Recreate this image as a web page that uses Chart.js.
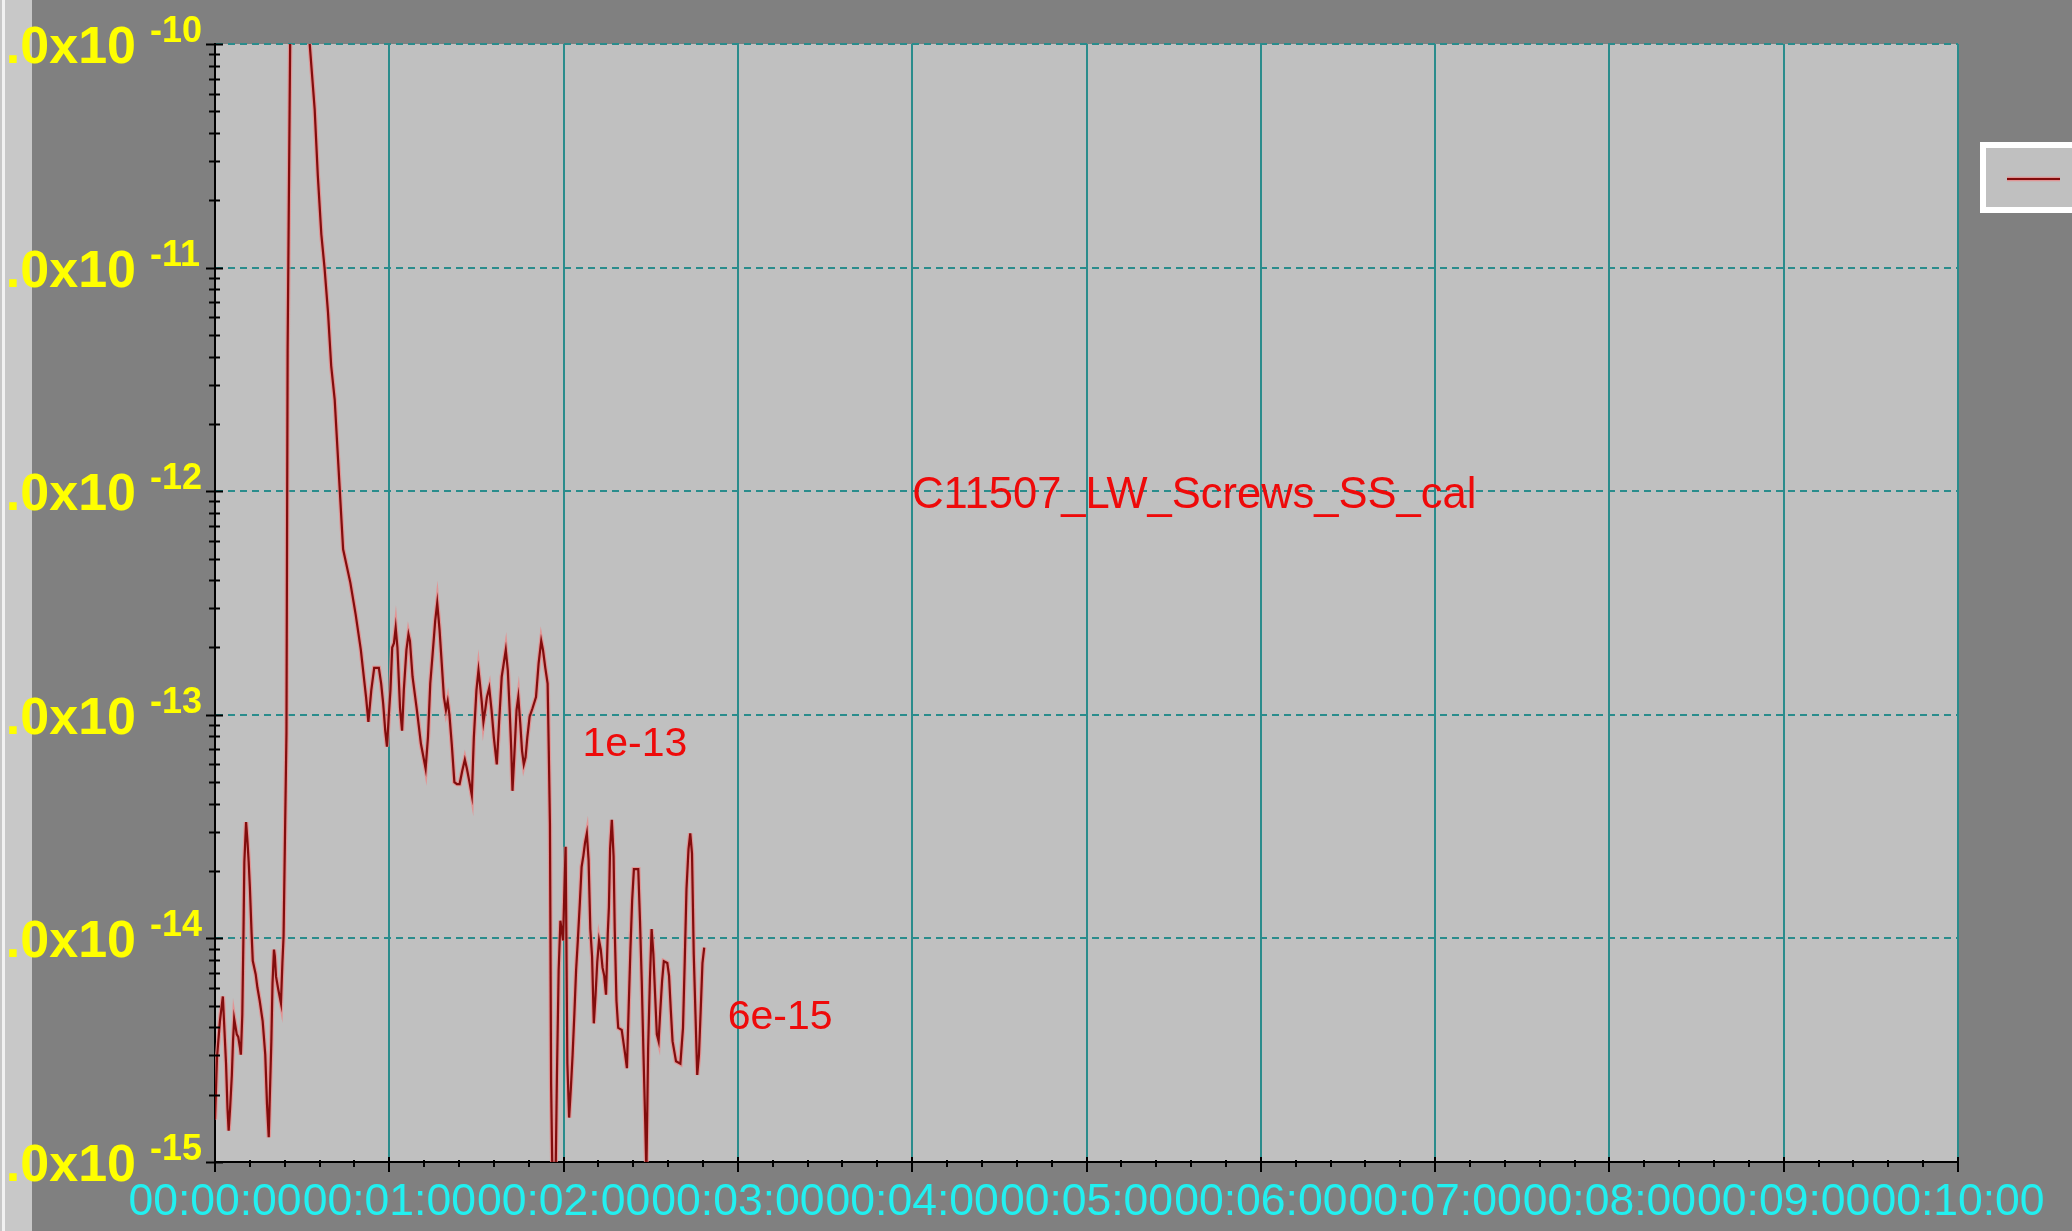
<!DOCTYPE html>
<html>
<head>
<meta charset="utf-8">
<script src="https://cdn.jsdelivr.net/npm/chart.js@4.4.1/dist/chart.umd.min.js"></script>
<style>
  html, body { margin: 0; padding: 0; background: #808080; overflow: hidden; }
  canvas { display: block; }
</style>
</head>
<body>
<canvas id="chart" width="2072" height="1231"></canvas>
<script>
// Ion current trace, time in seconds since start of run
const timeSec = [
  0, 0.7, 1.7, 2.7, 3.1, 3.8, 4.3, 4.7, 5.2, 5.8, 6.2, 6.6, 7.5, 8.0, 8.6, 8.9, 9.4, 9.8, 10.1, 10.7,
  11.2, 11.6, 12.0, 12.6, 13.0, 14.0, 14.6, 15.4, 16.4, 17.3, 17.9, 18.5, 18.8, 19.4, 19.8, 20.3, 20.6, 21.0, 21.8, 22.7,
  23.2, 23.6, 24.6, 25.0, 26.5, 30.0, 32.6, 34.3, 35.4, 36.6, 37.7, 38.9, 40.0, 41.2, 44.1, 46.6, 48.4, 50.2, 52.0, 52.8,
  53.8, 54.8, 56.4, 57.2, 57.9, 58.6, 59.2, 59.8, 60.4, 61.0, 61.6, 62.2, 62.8, 63.7, 64.4, 65.0, 65.9, 66.6, 67.1, 68.0,
  69.5, 70.9, 72.5, 73.3, 74.1, 74.9, 75.8, 76.5, 77.3, 77.9, 78.8, 79.5, 80.1, 80.7, 81.5, 82.4, 83.3, 84.2, 85.1, 86.0,
  86.7, 87.6, 88.4, 89.1, 90.0, 90.7, 91.2, 91.8, 92.4, 93.0, 93.6, 94.4, 95.2, 96.0, 97.0, 97.8, 98.7, 99.4, 100.1, 100.8,
  101.4, 102.0, 102.4, 103.0, 103.8, 104.4, 105.1, 105.7, 106.3, 106.9, 107.5, 108.3, 109.3, 110.5, 111.4, 112.3, 112.9, 113.7, 114.5, 114.9,
  115.3, 115.7, 116.3, 117.1, 117.7, 118.3, 118.9, 119.8, 120.7, 121.3, 121.9, 122.5, 123.1, 123.7, 124.3, 124.9, 125.6, 126.2, 126.8, 127.4,
  128.0, 128.6, 129.2, 129.8, 130.4, 131.0, 131.6, 132.2, 132.8, 133.4, 134.0, 134.6, 135.2, 135.6, 136.0, 136.6, 137.2, 137.6, 138.2, 138.8,
  140.0, 141.2, 141.8, 142.4, 143.0, 143.6, 144.2, 145.7, 146.3, 146.9, 147.5, 148.1, 148.5, 149.1, 149.7, 150.3, 150.9, 151.5, 152.1, 152.7,
  153.3, 153.9, 154.5, 155.7, 156.3, 156.9, 157.5, 158.7, 160.2, 161.1, 161.7, 162.3, 163.0, 163.6, 164.2, 164.8, 165.4, 166.0, 166.6, 167.2,
  167.8, 168.4
];
const currentA = [
  1.55e-15, 2.95e-15, 4.27e-15, 5.5e-15, 4.27e-15, 2.75e-15, 1.74e-15, 1.38e-15, 1.74e-15, 2.45e-15, 3.47e-15, 4.37e-15, 3.72e-15, 3.63e-15, 3.24e-15, 3.02e-15, 4.57e-15, 1.05e-14, 2.19e-14, 3.31e-14,
  2.69e-14, 2.19e-14, 1.70e-14, 1.05e-14, 7.94e-15, 6.92e-15, 6.03e-15, 5.25e-15, 4.27e-15, 3.02e-15, 1.82e-15, 1.29e-15, 1.82e-15, 3.47e-15, 6.31e-15, 8.91e-15, 8.32e-15, 6.76e-15, 5.89e-15, 5.13e-15,
  7.76e-15, 1.02e-14, 8.3e-14, 4.27e-12, 1.0e-9, 5.0e-10, 1.0e-10, 5.13e-11, 2.57e-11, 1.41e-11, 1.0e-11, 6.31e-12, 3.63e-12, 2.57e-12, 5.5e-13, 3.89e-13, 2.82e-13, 1.95e-13, 1.20e-13, 9.3e-14,
  1.29e-13, 1.62e-13, 1.62e-13, 1.38e-13, 1.12e-13, 8.5e-14, 7.2e-14, 9.8e-14, 1.29e-13, 2.0e-13, 2.09e-13, 2.45e-13, 2.0e-13, 1.07e-13, 8.5e-14, 1.29e-13, 1.95e-13, 2.29e-13, 2.14e-13, 1.48e-13,
  1.05e-13, 7.4e-14, 5.75e-14, 7.9e-14, 1.38e-13, 1.86e-13, 2.63e-13, 3.16e-13, 2.4e-13, 1.82e-13, 1.2e-13, 1.05e-13, 1.15e-13, 1.0e-13, 7.4e-14, 5.0e-14, 4.9e-14, 4.9e-14, 5.6e-14, 6.3e-14,
  5.75e-14, 5.0e-14, 4.37e-14, 7.9e-14, 1.29e-13, 1.58e-13, 1.38e-13, 1.15e-13, 9.3e-14, 1.05e-13, 1.2e-13, 1.32e-13, 1.05e-13, 7.9e-14, 6.0e-14, 9.3e-14, 1.48e-13, 1.7e-13, 1.95e-13, 1.58e-13,
  1.07e-13, 6.9e-14, 4.57e-14, 6.45e-14, 1.05e-13, 1.2e-13, 9.1e-14, 6.9e-14, 6.0e-14, 6.45e-14, 7.9e-14, 9.8e-14, 1.07e-13, 1.2e-13, 1.7e-13, 2.14e-13, 1.95e-13, 1.62e-13, 1.38e-13, 6.9e-14,
  3.24e-14, 2.24e-15, 6.3e-16, 6.3e-16, 2.4e-15, 7.2e-15, 1.2e-14, 9.8e-15, 2.57e-14, 2.75e-15, 1.58e-15, 2.14e-15, 3.02e-15, 4.57e-15, 7.2e-15, 9.8e-15, 1.45e-14, 2.09e-14, 2.34e-14, 2.69e-14,
  2.95e-14, 2.24e-14, 1.1e-14, 8.3e-15, 4.17e-15, 5.6e-15, 7.9e-15, 9.8e-15, 8.9e-15, 7.4e-15, 6.8e-15, 5.6e-15, 1.05e-14, 1.38e-14, 2.51e-14, 3.39e-14, 2.34e-14, 1.1e-14, 5.25e-15, 3.98e-15,
  3.9e-15, 3.02e-15, 2.63e-15, 4.9e-15, 8.9e-15, 1.48e-14, 2.04e-14, 2.04e-14, 1.2e-14, 6.45e-15, 3.02e-15, 1.51e-15, 8.9e-16, 3.24e-15, 6.45e-15, 1.1e-14, 8.5e-15, 5.6e-15, 3.72e-15, 3.47e-15,
  4.79e-15, 6.45e-15, 7.9e-15, 7.76e-15, 6.8e-15, 4.79e-15, 3.47e-15, 2.82e-15, 2.75e-15, 3.98e-15, 7.9e-15, 1.66e-14, 2.51e-14, 2.95e-14, 2.4e-14, 8.5e-15, 4.57e-15, 2.45e-15, 3.02e-15, 4.79e-15,
  7.76e-15, 9.1e-15
];

// Axis definitions
const timeMin = 0, timeMax = 600, timeStep = 60, timeMinorStep = 12;
const decades = [1e-15, 1e-14, 1e-13, 1e-12, 1e-11, 1e-10];
const minorFactors = [2, 3, 4, 5, 6, 7, 8, 9];

// Text annotations placed in data coordinates
const seriesName = 'C11507_LW_Screws_SS_cal';
const seriesNameTime = 240;
const seriesNameValue = 1e-12;
const noteText = ['1e-13', '6e-15'];
const noteTime = [126.5, 176.5];
const noteValue = [1e-13, 6e-15];

const LINE_DARK = '#820d0d';
const LINE_HALO = 'rgba(232,138,138,0.8)';
const TEAL = '#2a8c8c';
const FONT = '"Liberation Sans", Arial, sans-serif';

function fmtTime(sec) {
  const m = Math.round(sec / 60);
  return '00:' + String(m).padStart(2, '0') + ':00';
}

const decorPlugin = {
  id: 'decor',
  beforeDraw(chart) {
    const {ctx, chartArea: a, width, height} = chart;
    ctx.save();
    ctx.fillStyle = '#808080';
    ctx.fillRect(0, 0, width, height);
    // window frame strip on the left
    ctx.fillStyle = '#c8c8c8';
    ctx.fillRect(0, 0, 32, height);
    ctx.fillStyle = '#f2f2f2';
    ctx.fillRect(2, 0, 3, height);
    // plot background
    ctx.fillStyle = '#c0c0c0';
    ctx.fillRect(a.left, a.top, a.right - a.left, a.bottom - a.top);
    ctx.restore();
  },
  afterDraw(chart) {
    const {ctx, chartArea: a} = chart;
    const xs = chart.scales.x, ys = chart.scales.y;
    ctx.save();

    // tick marks crossing the axes
    ctx.strokeStyle = '#000';
    ctx.lineWidth = 2;
    ctx.beginPath();
    for (let s = timeMin; s <= timeMax; s += timeMinorStep) {
      const px = Math.round(xs.getPixelForValue(s));
      const major = s % timeStep === 0;
      ctx.moveTo(px, a.bottom + (major ? -5 : -2));
      ctx.lineTo(px, a.bottom + (major ? 10 : 5));
    }
    decades.forEach((d, i) => {
      const py = Math.round(ys.getPixelForValue(d)) + 0.5;
      ctx.moveTo(a.left - 9, py);
      ctx.lineTo(a.left + 8, py);
      if (i < decades.length - 1) {
        minorFactors.forEach(f => {
          const my = Math.round(ys.getPixelForValue(d * f)) + 0.5;
          ctx.moveTo(a.left - 6, my);
          ctx.lineTo(a.left + 5, my);
        });
      }
    });
    ctx.stroke();

    // decade labels with superscript exponent; the leading digit runs off the panel edge
    ctx.save();
    ctx.beginPath();
    ctx.rect(6, 0, a.left, chart.height);
    ctx.clip();
    ctx.fillStyle = '#ffff00';
    decades.forEach(d => {
      const py = ys.getPixelForValue(d);
      const exp = Math.round(Math.log10(d));
      ctx.font = 'bold 52px ' + FONT;
      ctx.textAlign = 'right';
      ctx.textBaseline = 'alphabetic';
      ctx.fillText('1.0x10', 136, py + 19);
      ctx.font = 'bold 36px ' + FONT;
      ctx.textAlign = 'left';
      ctx.fillText(String(exp), 150, py - 2);
    });
    ctx.restore();

    // annotations
    ctx.fillStyle = '#ee0a0a';
    ctx.textAlign = 'left';
    ctx.textBaseline = 'alphabetic';
    ctx.font = '43.5px ' + FONT;
    ctx.fillText(seriesName, xs.getPixelForValue(seriesNameTime), ys.getPixelForValue(seriesNameValue) + 17);
    ctx.font = '41px ' + FONT;
    noteText.forEach((t, i) => {
      ctx.fillText(t, xs.getPixelForValue(noteTime[i]), ys.getPixelForValue(noteValue[i]) + 41);
    });

    // legend box at the right edge
    ctx.fillStyle = '#ffffff';
    ctx.fillRect(1980, 142, 120, 71);
    ctx.fillStyle = '#c0c0c0';
    ctx.fillRect(1986, 148, 120, 59);
    ctx.lineWidth = 4.5;
    ctx.strokeStyle = LINE_HALO;
    ctx.beginPath(); ctx.moveTo(2007, 179); ctx.lineTo(2060, 179); ctx.stroke();
    ctx.lineWidth = 2.2;
    ctx.strokeStyle = LINE_DARK;
    ctx.beginPath(); ctx.moveTo(2007, 179); ctx.lineTo(2060, 179); ctx.stroke();

    ctx.restore();
  }
};

const points = timeSec.map((t, i) => ({x: t, y: currentA[i]}));

new Chart(document.getElementById('chart'), {
  type: 'line',
  data: {
    datasets: [
      { label: seriesName, data: points, borderColor: LINE_DARK, borderWidth: 2.2,
        pointRadius: 0, tension: 0, fill: false },
      { label: seriesName + ' edge', data: points, borderColor: LINE_HALO, borderWidth: 4.5,
        pointRadius: 0, tension: 0, fill: false }
    ]
  },
  options: {
    responsive: false,
    animation: false,
    devicePixelRatio: 1,
    layout: { padding: { top: 44, right: 114, left: 0, bottom: 0 } },
    plugins: { legend: { display: false }, tooltip: { enabled: false } },
    scales: {
      x: {
        type: 'linear',
        min: timeMin, max: timeMax,
        afterFit(s) { s.height = 69; },
        ticks: {
          stepSize: timeStep,
          autoSkip: false,
          maxRotation: 0,
          color: '#22f0f0',
          padding: 14,
          font: { family: FONT, size: 44.5 },
          callback: v => fmtTime(v)
        },
        grid: { color: TEAL, lineWidth: 2, drawTicks: false },
        border: { display: true, color: '#000', width: 2 }
      },
      y: {
        type: 'logarithmic',
        min: 1e-15, max: 1e-10,
        afterFit(s) { s.width = 215; },
        afterBuildTicks(s) { s.ticks = decades.map(v => ({ value: v, major: true })); },
        ticks: { display: false },
        grid: { color: TEAL, lineWidth: 2, drawTicks: false },
        border: { display: true, color: '#000', width: 2, dash: [7, 5] }
      }
    }
  },
  plugins: [decorPlugin]
});
</script>
</body>
</html>
